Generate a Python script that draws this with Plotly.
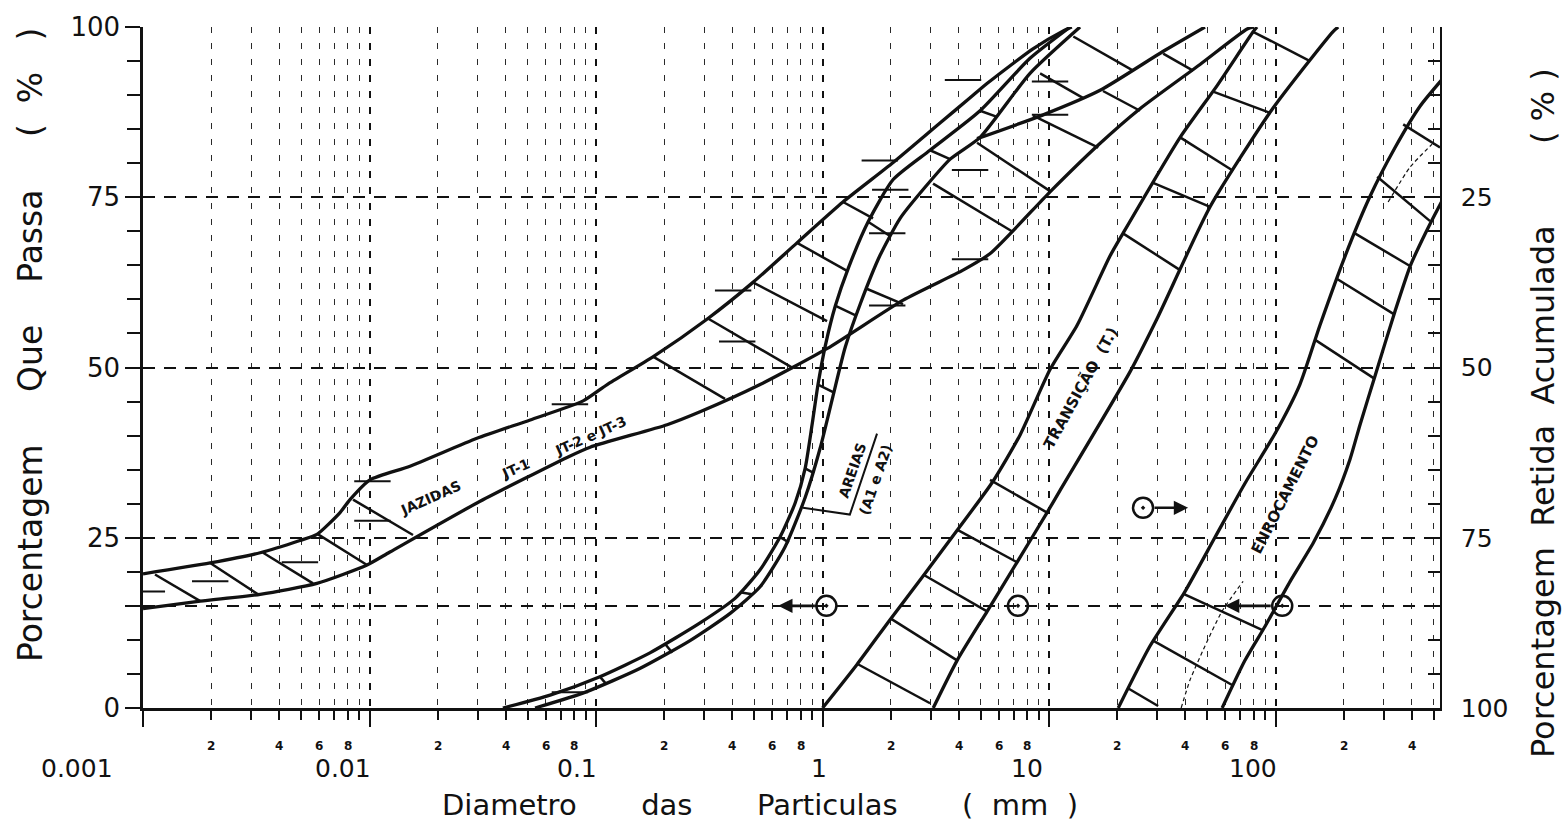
import numpy as np
import plotly.graph_objects as go

# ---------------- data (diameter in mm, percentage passing) ----------------
# JAZIDAS JT-1, JT-2 e JT-3 : upper (fine) and lower (coarse) envelope
jaz_sup_d = [0.001, 0.00198, 0.00329, 0.00493, 0.00586, 0.00741, 0.0082, 0.01005, 0.0151, 0.0298,
             0.0512, 0.0877, 0.112, 0.179, 0.312, 0.493, 0.771, 1.23, 2.05, 3.30, 4.48, 5.32, 8.49, 11.5, 12.6]
jaz_sup_p = [19.7, 21.3, 22.8, 24.6, 25.5, 28.7, 30.6, 33.5, 35.5, 39.6,
             42.3, 45.1, 47.5, 51.6, 57.2, 62.5, 68.3, 74.3, 80.1, 85.9, 89.6, 91.7, 96.8, 99.4, 100]
jaz_inf_d = [0.001, 0.00179, 0.00329, 0.00586, 0.00975, 0.0123, 0.0298, 0.0745, 0.0942, 0.206, 0.288,
             0.530, 1.05, 2.27, 4.17, 5.48, 10.1, 16.4, 25.2, 46.4, 74.9, 80.0]
jaz_inf_p = [14.6, 15.7, 16.7, 18.3, 21.0, 22.9, 30.1, 36.8, 38.3, 41.6, 43.5,
             47.5, 52.8, 59.9, 64.3, 66.7, 75.8, 82.6, 88.0, 94.5, 99.7, 100]
jaz_mid_d = [4.81, 9.42, 16.8, 31.8, 48.8]
jaz_mid_p = [83.6, 87.1, 90.7, 96.4, 100]

# AREIAS (A1 e A2)
areia_esq_d = [0.0388, 0.0627, 0.104, 0.173, 0.288, 0.411, 0.530, 0.649, 0.757, 0.838, 0.900,
               0.955, 1.03, 1.14, 1.30, 1.59, 2.05, 2.98, 4.96, 8.24, 12.4]
areia_esq_p = [0, 1.9, 4.6, 8.1, 12.5, 16.1, 20.3, 25.1, 30.1, 35.2, 41.7,
               47.5, 53.3, 59.1, 64.6, 71.4, 77.6, 81.9, 87.7, 95.4, 100]
areia_dir_d = [0.0538, 0.0893, 0.156, 0.260, 0.391, 0.530, 0.682, 0.838, 0.975, 1.11, 1.26,
               1.47, 1.79, 2.20, 2.84, 3.66, 4.96, 8.24, 13.7]
areia_dir_p = [0, 2.3, 5.8, 9.9, 13.9, 17.8, 23.6, 30.9, 38.1, 45.7, 53.0,
               59.4, 66.4, 71.9, 76.5, 80.6, 83.8, 93.2, 100]

# TRANSICAO (T.)
trans_esq_d = [1.00, 1.42, 1.99, 2.78, 3.93, 5.66, 7.45, 10.1, 13.3, 18.6, 21.2, 37.9, 55.2, 79.6, 82.8]
trans_esq_p = [0, 6.4, 13.0, 19.4, 26.1, 33.3, 40.1, 49.7, 56.2, 66.4, 69.7, 83.8, 91.4, 99.3, 100]
trans_dir_d = [3.08, 3.93, 5.33, 7.22, 9.80, 11.2, 22.8, 30.0, 51.4, 97.5, 179, 189]
trans_dir_p = [0, 7.0, 14.2, 21.4, 28.7, 32.0, 49.4, 57.2, 73.6, 88.1, 99.3, 100]

# ENROCAMENTO
enr_esq_d = [20.2, 27.9, 39.8, 54.1, 73.3, 99.5, 128, 157, 203, 261, 337, 435, 560]
enr_esq_p = [0, 9.1, 17.1, 25.1, 33.0, 40.3, 47.5, 56.2, 66.4, 75.1, 82.3, 88.4, 92.8]
enr_dir_d = [58.1, 73.3, 89.9, 116, 147, 183, 213, 236, 275, 337, 393, 457, 532, 572]
enr_dir_p = [0, 7.0, 12.0, 18.6, 24.3, 30.7, 36.5, 41.6, 48.8, 58.3, 64.9, 69.6, 73.9, 75.8]
enr_fina_d = [38.3, 41.9, 48.8, 58.0, 71.9]
enr_fina_p = [0, 4.1, 9.1, 14.2, 18.6]
enr_fina2_d = [314, 392, 491]
enr_fina2_p = [74.3, 79.4, 82.8]

# hatch strokes across the bands: (d1, p1, d2, p2)
jaz_hatch = [(0.00113, 19.6, 0.00179, 15.7), (0.00198, 21.3, 0.00322, 16.7), (0.00339, 22.8, 0.00563, 18.3),
             (0.00593, 25.5, 0.00975, 21.0), (0.00846, 30.6, 0.01556, 25.4), (0.1786, 51.6, 0.371, 45.4),
             (0.312, 57.2, 0.741, 49.9), (0.493, 62.5, 1.047, 56.8), (0.772, 68.3, 1.283, 64.2),
             (1.232, 74.3, 1.671, 71.9), (1.556, 61.6, 2.266, 59.3), (3.075, 77.0, 6.94, 69.9),
             (4.81, 83.0, 10.1, 75.9), (8.50, 87.0, 16.5, 82.3), (17.3, 90.6, 25.2, 87.7),
             (31.9, 96.1, 43.2, 93.6), (9.13, 93.2, 14.1, 89.6), (12.8, 98.6, 23.5, 93.6)]
areia_hatch = [(0.104, 4.6, 0.111, 3.5), (0.202, 9.4, 0.217, 8.1), (0.432, 17.0, 0.488, 16.7),
               (0.649, 25.1, 0.711, 24.3), (0.837, 35.2, 0.917, 34.5), (0.955, 47.5, 1.113, 46.4),
               (1.136, 59.1, 1.392, 57.7), (1.588, 71.4, 1.986, 69.3), (2.983, 81.9, 3.655, 80.6),
               (4.96, 87.7, 5.894, 86.8)]
trans_hatch = [(1.420, 6.5, 2.983, 0.7), (1.986, 13.2, 3.925, 7.0), (2.778, 19.6, 5.325, 14.2),
               (3.925, 26.2, 7.223, 21.4), (5.489, 33.5, 9.80, 28.7), (21.2, 69.7, 37.9, 64.3),
               (28.8, 77.1, 51.4, 73.6), (37.9, 83.8, 64.9, 78.9), (53.0, 90.5, 94.6, 87.4),
               (79.6, 99.3, 142, 95.0)]
enr_hatch = [(22.3, 2.9, 30.3, 0.3), (28.8, 9.9, 64.9, 3.3), (39.0, 16.8, 88.1, 11.4),
             (149, 54.1, 272, 48.4), (187, 63.0, 334, 57.8), (224, 69.7, 392, 64.9),
             (281, 78.0, 481, 71.5), (366, 85.7, 532, 82.3)]

# short horizontal test-point marks
marks_d = [0.00104, 0.00198, 0.00493, 0.0103, 0.0103, 0.0767, 0.403, 0.420, 1.79, 1.99,
           1.93, 1.93, 4.48, 4.48, 4.17, 10.1, 10.1, 0.0767]
marks_p = [17.1, 18.6, 21.4, 27.5, 33.3, 44.6, 61.3, 53.8, 80.4, 76.1,
           69.7, 59.1, 65.9, 79.0, 92.2, 92.0, 87.1, 2.3]

# criteria circles and their arrows
circ_d = [1.04, 7.29, 26.0, 107]
circ_p = [15, 15, 29.4, 15]
arrow_tip_d = [0.637, None, 41.1, 59.8]

# AREIAS label leader
areia_leader_d = [0.820, 1.32, 1.74]
areia_leader_p = [29.4, 28.4, 40.3]

decades = [0.001, 0.01, 0.1, 1, 10, 100]
decade_labels = ["0.001", "0.01", "0.1", "1", "10", "100"]
minor_vals = [m * d for d in decades for m in range(2, 10) if m * d <= 532]
minor_label_vals = [m * d for d in decades for m in (2, 4, 6, 8) if m * d <= 500]
left_ticks = [0, 15, 25, 50, 75, 100]
left_ticktext = ["0", "", "25", "50", "75", "100"]
right_ticks = [25, 50, 75, 100]

# ---------------- figure ----------------
BLACK = "#111111"
FONT = "DejaVu Sans"
fig = go.Figure()


def add_curve(d, p, width=3.3, dash=None):
    fig.add_trace(go.Scatter(x=d, y=p, mode="lines", hoverinfo="skip", showlegend=False,
                             line=dict(color=BLACK, width=width, dash=dash,
                                       shape="spline", smoothing=0.6)))


def add_hatch(segs, width=2.5):
    xs, ys = [], []
    for d1, p1, d2, p2 in segs:
        xs += [d1, d2, None]
        ys += [p1, p2, None]
    fig.add_trace(go.Scatter(x=xs, y=ys, mode="lines", hoverinfo="skip", showlegend=False,
                             line=dict(color=BLACK, width=width)))


for d, p in [(jaz_sup_d, jaz_sup_p), (jaz_inf_d, jaz_inf_p), (jaz_mid_d, jaz_mid_p),
             (areia_esq_d, areia_esq_p), (areia_dir_d, areia_dir_p),
             (trans_esq_d, trans_esq_p), (trans_dir_d, trans_dir_p),
             (enr_esq_d, enr_esq_p), (enr_dir_d, enr_dir_p)]:
    add_curve(d, p)

add_curve(enr_fina_d, enr_fina_p, width=1.2, dash="4px,3px")
add_curve(enr_fina2_d, enr_fina2_p, width=1.2, dash="4px,3px")

for segs in (jaz_hatch, areia_hatch, trans_hatch, enr_hatch):
    add_hatch(segs)

fig.add_trace(go.Scatter(x=areia_leader_d, y=areia_leader_p, mode="lines", hoverinfo="skip",
                         showlegend=False, line=dict(color=BLACK, width=2)))

fig.add_trace(go.Scatter(x=marks_d, y=marks_p, mode="markers", hoverinfo="skip", showlegend=False,
                         marker=dict(symbol="line-ew", size=26, line=dict(color=BLACK, width=2))))

fig.add_trace(go.Scatter(x=circ_d, y=circ_p, mode="markers", hoverinfo="skip", showlegend=False,
                         marker=dict(symbol="circle-open-dot", size=20, color=BLACK,
                                     line=dict(color=BLACK, width=2.5))))

# invisible trace to activate the right-hand axis
fig.add_trace(go.Scatter(x=[decades[0]], y=[0], yaxis="y2", mode="markers", hoverinfo="skip",
                         showlegend=False, marker=dict(opacity=0)))

annotations = []
for cd, cp, tip in zip(circ_d, circ_p, arrow_tip_d):
    if tip is None:
        continue
    annotations.append(dict(x=np.log10(tip), y=cp, ax=np.log10(cd), ay=cp, xref="x", yref="y",
                            axref="x", ayref="y", text="", showarrow=True, arrowhead=2,
                            arrowsize=1.1, arrowwidth=2.6, arrowcolor=BLACK, startstandoff=10))

# band names
band_texts = [
    ("<b>JAZIDAS</b>", 0.0185, 30.9, -24, 14),
    ("<b>JT-1</b>", 0.0439, 35.1, -24, 14),
    ("<b>JT-2 e JT-3</b>", 0.0942, 40.0, -24, 14),
    ("<b>AREIAS</b>", 1.36, 34.9, -71, 14),
    ("<b>(A1 e A2)</b>", 1.71, 33.5, -71, 14),
    ("<b>TRANSIÇÃO  (T.)</b>", 13.8, 47.0, -61, 15),
    ("<b>ENROCAMENTO</b>", 110, 31.3, -63, 15),
]
for txt, d, p, ang, sz in band_texts:
    annotations.append(dict(x=np.log10(d), y=p, xref="x", yref="y", text=txt, showarrow=False,
                            textangle=ang, font=dict(family=FONT, size=sz, color=BLACK)))

# x tick labels (decades) and small minor labels
label_shift = [-28, 3, 3, 6, -4, 3]
for v, lab, sh in zip(decades, decade_labels, label_shift):
    annotations.append(dict(x=np.log10(v), y=-0.0885, xref="x", yref="paper", text=lab,
                            showarrow=False, xanchor="right", yanchor="middle", xshift=sh,
                            font=dict(family=FONT, size=25, color=BLACK)))
for v in minor_label_vals:
    m = int(round(v / 10 ** np.floor(np.log10(v) + 1e-9)))
    annotations.append(dict(x=np.log10(v), y=-0.056, xref="x", yref="paper", text="<b>%d</b>" % m,
                            showarrow=False, xanchor="center", yanchor="middle",
                            font=dict(family=FONT, size=12, color=BLACK)))

nb = "\u00a0"
left_title = ("Porcentagem" + nb * 5 + "Que" + nb * 4 + "Passa" + nb * 5 + "(" + nb * 2 + "%" + nb * 3 + ")")
right_title = ("Porcentagem" + nb * 2 + "Retida" + nb * 2 + "Acumulada" + nb * 8 + "(" + nb + "%" + nb + ")")
x_title = ("Diametro" + nb * 7 + "das" + nb * 7 + "Particulas" + nb * 7 + "(" + nb * 2 + "mm" + nb * 2 + ")")
annotations.append(dict(x=-0.0871, y=0.533, xref="paper", yref="paper", text=left_title, textangle=-90,
                        xanchor="center", yanchor="middle",
                        showarrow=False, font=dict(family=FONT, size=33, color=BLACK)))
annotations.append(dict(x=1.0794, y=0.433, xref="paper", yref="paper", text=right_title, textangle=-90,
                        xanchor="center", yanchor="middle",
                        showarrow=False, font=dict(family=FONT, size=32, color=BLACK)))
annotations.append(dict(x=0.476, y=-0.143, xref="paper", yref="paper", text=x_title,
                        xanchor="center", yanchor="middle",
                        showarrow=False, font=dict(family=FONT, size=29, color=BLACK)))

fig.update_layout(
    width=1566, height=827,
    margin=dict(l=143, r=126, t=18, b=119),
    paper_bgcolor="white", plot_bgcolor="white",
    showlegend=False, hovermode=False,
    annotations=annotations,
    xaxis=dict(type="log", range=[-3, np.log10(532)], tickvals=decades, showticklabels=False,
               ticks="outside", ticklen=16, tickwidth=2, tickcolor=BLACK,
               showline=True, linecolor=BLACK, linewidth=2.5,
               showgrid=True, gridcolor=BLACK, griddash="7px,9px", gridwidth=1.5, zeroline=False,
               minor=dict(tickvals=minor_vals, ticks="outside", ticklen=9, tickwidth=1.6,
                          tickcolor=BLACK, showgrid=True, gridcolor="#2a2a2a",
                          griddash="6px,10px", gridwidth=1.4)),
    yaxis=dict(range=[0, 100], tickvals=left_ticks, ticktext=left_ticktext,
               ticks="outside", ticklen=15, tickwidth=2, tickcolor=BLACK,
               showline=True, linecolor=BLACK, linewidth=2.5,
               showgrid=True, gridcolor=BLACK, griddash="12px,9px", gridwidth=1.8, zeroline=False,
               tickfont=dict(family=FONT, size=26, color=BLACK),
               minor=dict(dtick=5, ticks="outside", ticklen=13, tickwidth=2, tickcolor=BLACK,
                          showgrid=False)),
    yaxis2=dict(overlaying="y", side="right", range=[100, 0], tickvals=right_ticks,
                ticks="inside", ticklen=16, tickwidth=2, tickcolor=BLACK,
                showline=True, linecolor=BLACK, linewidth=1.5, showgrid=False, zeroline=False,
                ticklabelstandoff=14,
                tickfont=dict(family=FONT, size=25, color=BLACK),
                minor=dict(dtick=5, ticks="inside", ticklen=12, tickwidth=2, tickcolor=BLACK,
                           showgrid=False)),
)

fig.write_html("out.html", config={"displayModeBar": False},
               post_script="document.body.style.margin='0';")
